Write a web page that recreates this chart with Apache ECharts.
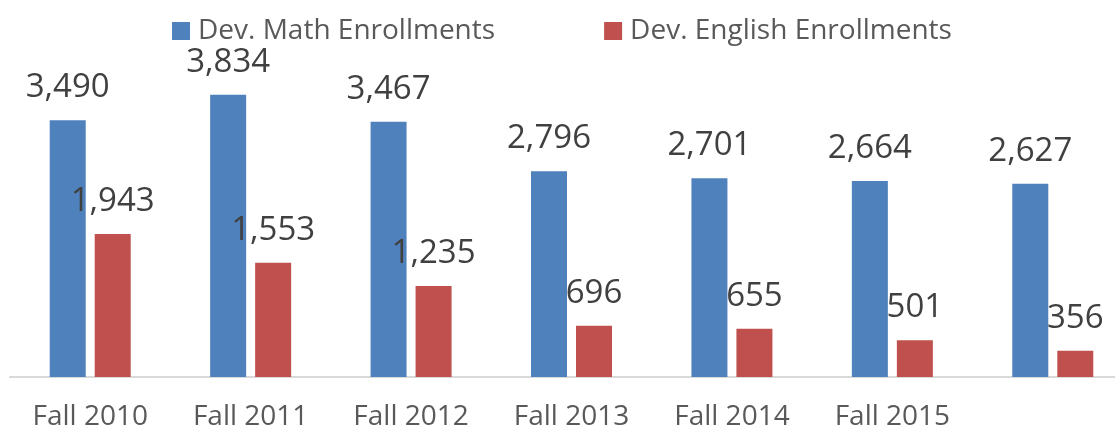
<!DOCTYPE html>
<html>
<head>
<meta charset="utf-8">
<script src="https://cdn.jsdelivr.net/npm/echarts@6/dist/echarts.min.js"></script>
<style>
html, body { margin: 0; padding: 0; background: #fff; }
#chart { width: 1115px; height: 431px; }
</style>
</head>
<body>
<div id="chart"></div>
<script>
var terms = ['Fall 2010', 'Fall 2011', 'Fall 2012', 'Fall 2013', 'Fall 2014', 'Fall 2015', ''];
var mathEnroll = [3490, 3834, 3467, 2796, 2701, 2664, 2627];
var englishEnroll = [1943, 1553, 1235, 696, 655, 501, 356];

var chart = echarts.init(document.getElementById('chart'));

var labelStyle = {
    show: true,
    position: 'top',
    distance: 16,
    fontFamily: 'Open Sans',
    fontSize: 33,
    color: '#404040',
    formatter: function (p) {
        return p.value.toLocaleString('en-US');
    }
};

chart.setOption({
    animation: false,
    textStyle: { fontFamily: 'Open Sans' },
    legend: {
        top: 12,
        left: 167,
        itemGap: 109,
        itemWidth: 18,
        itemHeight: 18,
        icon: 'rect',
        textStyle: { fontSize: 28, color: '#595959', fontFamily: 'Open Sans', padding: [0, 0, 0, 3] },
        data: ['Dev. Math Enrollments', 'Dev. English Enrollments']
    },
    // the last category runs past the right edge of the picture
    grid: { left: 10, width: 1123, top: 9, bottom: 54, containLabel: false, outerBoundsMode: 'none' },
    xAxis: {
        type: 'category',
        data: terms,
        axisLine: { lineStyle: { color: '#d9d9d9', width: 2 } },
        axisTick: { show: false },
        axisLabel: { fontSize: 28, color: '#595959', margin: 26, interval: 0 }
    },
    yAxis: {
        type: 'value',
        min: 0,
        max: 5000,
        show: false,
        splitLine: { show: false }
    },
    series: [{
        name: 'Dev. Math Enrollments',
        type: 'bar',
        data: mathEnroll,
        barWidth: 36,
        barGap: '25%',
        itemStyle: { color: '#4F81BD' },
        label: labelStyle
    }, {
        name: 'Dev. English Enrollments',
        type: 'bar',
        data: englishEnroll,
        barWidth: 36,
        barGap: '25%',
        itemStyle: { color: '#C0504D' },
        label: labelStyle
    }]
});
</script>
</body>
</html>
